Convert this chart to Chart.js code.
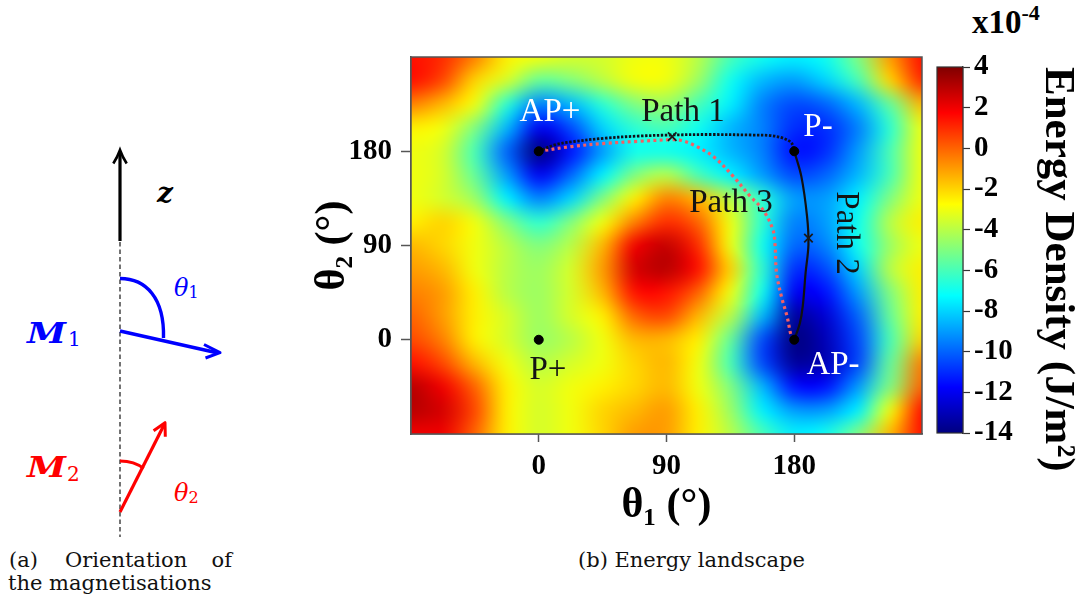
<!DOCTYPE html>
<html>
<head>
<meta charset="utf-8">
<title>Energy landscape</title>
<script src="https://cdn.jsdelivr.net/npm/chart.js@4.4.1/dist/chart.umd.min.js"></script>
<style>
  html, body { margin: 0; padding: 0; background: #fff; }
  #page { position: relative; width: 1083px; height: 608px; overflow: hidden; }
  #page svg, #page canvas { position: absolute; top: 0; }
  #schema { left: 0; }
  #landscape { left: 290px; }
  #colorbar { left: 925px; }
</style>
</head>
<body>
<div id="page">
  <svg id="schema" width="1083" height="608" viewBox="0 0 1083 608">
    <g fill="none">
      <line x1="120" y1="242" x2="120" y2="537" stroke="#000" stroke-width="1.1" stroke-dasharray="4.5 3"/>
      <line x1="120" y1="241" x2="120" y2="153" stroke="#000" stroke-width="3.2"/>
      <path d="M113.3,163.5 Q117.5,157 120,150 Q122.5,157 126.7,163.5" stroke="#000" stroke-width="2.6"/>
      <path d="M120,278.5 C146,278.5 164.5,298 163.5,338" stroke="#0000ff" stroke-width="3.4"/>
      <line x1="120" y1="331" x2="218" y2="353" stroke="#0000ff" stroke-width="3.4"/>
      <path d="M204,344.5 L220,352.7 L205.5,358" stroke="#0000ff" stroke-width="3" stroke-linejoin="round"/>
      <path d="M120,461 C129,461 137.5,463.5 143.5,468.5" stroke="#ff0000" stroke-width="3.2"/>
      <line x1="120" y1="512" x2="164.5" y2="424" stroke="#ff0000" stroke-width="3.2"/>
      <path d="M153.6,430.8 L165,422.7 L165.3,436.7" stroke="#ff0000" stroke-width="3" stroke-linejoin="round"/>
    </g>
    <g font-family="DejaVu Serif, serif">
      <text x="157" y="202" font-style="italic" font-weight="bold" font-size="28">z</text>
      <text x="174" y="296" fill="#0000ff" font-style="italic" font-size="24">θ<tspan font-style="normal" font-size="16" dy="2">1</tspan></text>
      <text x="27" y="343" fill="#0000ff" font-style="italic" font-weight="bold" font-size="28" textLength="39" lengthAdjust="spacingAndGlyphs">M</text>
      <text x="68" y="346" fill="#0000ff" font-size="20">1</text>
      <text x="27" y="477" fill="#ff0000" font-style="italic" font-weight="bold" font-size="28" textLength="39" lengthAdjust="spacingAndGlyphs">M</text>
      <text x="67" y="481" fill="#ff0000" font-size="20">2</text>
      <text x="174" y="501" fill="#ff0000" font-style="italic" font-size="24">θ<tspan font-style="normal" font-size="16" dy="2">2</tspan></text>
      <g font-size="21" fill="#111">
        <text x="9" y="567">(a)</text>
        <text x="65" y="567">Orientation</text>
        <text x="232" y="567" text-anchor="end">of</text>
        <text x="8" y="590">the magnetisations</text>
        <text x="691.5" y="567" text-anchor="middle">(b) Energy landscape</text>
      </g>
    </g>
    <text x="972" y="33" font-family="Liberation Serif, serif" font-weight="bold" font-size="33">x10<tspan font-size="22" dy="-13">-4</tspan></text>
  </svg>
  <canvas id="landscape" width="640" height="560"></canvas>
  <canvas id="colorbar" width="158" height="500"></canvas>
</div>
<script>
// grid of energy density (x1e-4 J/m^2), rows from theta2 = 270 down to -90
const theta1Grid = [-90, -67.5, -45, -22.5, 0, 22.5, 45, 67.5, 90, 112.5, 135, 157.5, 180, 202.5, 225, 247.5, 270];
const theta2Grid = [270, 247.5, 225, 202.5, 180, 157.5, 135, 112.5, 90, 67.5, 45, 22.5, 0, -22.5, -45, -67.5, -90];
const energy = [
  [ 1.5,  1.0, -0.5, -2.5,  -3.0, -3.5, -3.5, -3.0, -3.0, -4.0, -6.0,  -7.0,  -7.5,  -7.0,  -5.0, -1.0,  1.5],
  [ 1.5,  0.5, -2.0, -3.5,  -5.5, -5.0, -4.0, -3.0, -3.0, -4.5, -7.0,  -8.5,  -9.0,  -8.0,  -6.0, -2.0,  1.0],
  [-0.5, -1.5, -3.0, -6.5,  -9.5, -8.5, -6.5, -5.0, -4.5, -6.0, -7.5,  -9.5, -10.5, -10.0,  -8.5, -5.5, -1.5],
  [-2.5, -3.0, -5.0, -8.5, -12.0,-10.5, -8.0, -6.5, -6.0, -7.0, -8.5,  -9.5, -11.0, -11.0,  -9.5, -6.5, -3.0],
  [-3.0, -3.5, -6.0,-10.0, -14.0,-11.5, -9.0, -7.0, -7.0, -7.5, -8.5,  -9.5, -11.5, -11.0,  -9.0, -6.0, -3.0],
  [-3.0, -3.5, -5.5, -9.0, -12.0,-10.0, -7.5, -5.0, -4.0, -6.0, -7.5,  -9.0, -10.5, -10.0,  -8.5, -6.0, -3.0],
  [-3.0, -3.5, -4.5, -7.5,  -9.5, -8.0, -5.0, -2.5, -0.5, -1.5, -4.0,  -6.5,  -9.0,  -9.0,  -7.5, -5.0, -3.0],
  [-2.5, -2.0, -3.0, -5.0,  -6.5, -5.0, -3.0, -0.5,  1.0,  0.0, -3.0,  -6.5,  -9.5,  -9.0,  -7.0, -4.0, -2.5],
  [-1.5, -2.0, -3.0, -4.0,  -5.0, -4.0, -1.5,  2.0,  2.8,  1.0, -3.0,  -7.0, -10.0,  -9.5,  -7.0, -4.5, -3.0],
  [-1.0, -1.5, -3.0, -4.0,  -4.5, -3.5, -1.0,  2.5,  3.0,  1.5, -2.0,  -6.5, -11.0, -10.5,  -8.0, -4.0, -2.5],
  [-0.5, -1.0, -2.5, -4.0,  -4.5, -3.5, -1.5,  1.5,  1.5,  0.0, -3.0,  -7.0, -12.0, -11.5,  -9.0, -5.0, -2.5],
  [ 0.0, -1.0, -2.5, -3.5,  -4.5, -3.5, -2.5,  0.0,  0.5, -1.5, -4.0,  -8.5, -13.5, -12.5, -10.0, -5.5, -2.5],
  [ 0.5, -0.5, -2.5, -3.5,  -4.5, -4.0, -3.0, -1.5, -1.5, -2.5, -5.5, -10.5, -14.0, -13.0, -10.5, -6.0, -2.0],
  [ 1.5,  0.5, -1.5, -3.0,  -4.0, -3.5, -3.0, -2.0, -1.5, -3.0, -6.0, -10.5, -13.5, -13.0, -10.5, -5.5, -0.5],
  [ 3.0,  2.0,  0.0, -2.5,  -3.5, -3.0, -2.5, -2.0, -1.5, -3.0, -5.0,  -8.5, -11.5, -11.5,  -9.0, -5.0,  0.0],
  [ 3.0,  2.5,  0.5, -2.5,  -3.5, -3.0, -2.0, -1.5, -1.0, -2.5, -4.5,  -7.5,  -9.0,  -9.0,  -7.5, -3.0,  1.5],
  [ 2.0,  2.0,  0.0, -2.5,  -3.5, -3.0, -2.0, -1.0, -1.0, -2.5, -4.0,  -6.0,  -7.5,  -7.0,  -5.0, -1.5,  1.5]
];

const theta1Ticks = [0, 90, 180];
const theta2Ticks = [0, 90, 180];
const colorTicks = [-14, -12, -10, -8, -6, -4, -2, 0, 2, 4];
const cbMin = -14, cbMax = 4;

const stateTheta1 = [0, 180, 0, 180];
const stateTheta2 = [180, 180, 0, 0];
const crossTheta1 = [94, 190];
const crossTheta2 = [194, 97];

const path1Theta1 = [0, 11, 23, 47, 70, 93, 120, 150, 163, 172, 178, 180];
const path1Theta2 = [180, 186, 189, 192.5, 194.5, 195.5, 196, 195.5, 195, 192.5, 188, 180];
const path2Theta1 = [180, 185, 189, 190, 188, 186, 184, 180];
const path2Theta2 = [180, 156, 118, 91, 64, 32, 16, 0];
const path3Theta1 = [0, 23, 47, 70, 93, 100, 109, 123, 137, 149, 158, 165, 166.5, 167.5, 171, 175, 178, 180];
const path3Theta2 = [180, 184.5, 187.5, 189.5, 191, 190.5, 186, 175, 156, 137, 124, 105, 90, 64, 41, 22, 3, 0];

const labelText = ['AP+', 'Path 1', 'P-', 'Path 3', 'Path 2', 'AP-', 'P+'];
const labelTheta1 = [7.9, 101.6, 196.7, 135.4, 216.5, 207.3, 6.5];
const labelTheta2 = [217.5, 217.5, 203.2, 130.6, 101.9, -24.1, -28.9];

const serif = '"Liberation Serif", "DejaVu Serif", serif';
Chart.defaults.font.family = serif;

const pts = (xs, ys) => xs.map((x, i) => ({ x: x, y: ys[i] }));

function jet(v) {
  const t = Math.min(1, Math.max(0, (v - cbMin) / (cbMax - cbMin)));
  const c = k => Math.round(255 * Math.min(1, Math.max(0, 1.5 - Math.abs(4 * t - k))));
  return [c(3), c(2), c(1)];
}

// small image, one pixel per grid value, stretched over the grid extent
const heatImg = document.createElement('canvas');
heatImg.width = theta1Grid.length;
heatImg.height = theta2Grid.length;
(function () {
  const g = heatImg.getContext('2d');
  const img = g.createImageData(heatImg.width, heatImg.height);
  energy.forEach((row, j) => row.forEach((v, i) => {
    const [r, gg, b] = jet(v);
    const k = (j * heatImg.width + i) * 4;
    img.data[k] = r; img.data[k + 1] = gg; img.data[k + 2] = b; img.data[k + 3] = 255;
  }));
  g.putImageData(img, 0, 0);
})();

const heatmapPlugin = {
  id: 'heatmap',
  beforeDatasetsDraw(chart) {
    const { ctx, chartArea: a, scales: { x, y } } = chart;
    const hx = (theta1Grid[1] - theta1Grid[0]) / 2;
    const hy = (theta2Grid[0] - theta2Grid[1]) / 2;
    const left = x.getPixelForValue(theta1Grid[0] - hx);
    const right = x.getPixelForValue(theta1Grid[theta1Grid.length - 1] + hx);
    const top = y.getPixelForValue(theta2Grid[0] + hy);
    const bottom = y.getPixelForValue(theta2Grid[theta2Grid.length - 1] - hy);
    ctx.save();
    ctx.beginPath();
    ctx.rect(a.left, a.top, a.right - a.left, a.bottom - a.top);
    ctx.clip();
    ctx.imageSmoothingEnabled = true;
    ctx.imageSmoothingQuality = 'high';
    ctx.drawImage(heatImg, left, top, right - left, bottom - top);
    ctx.restore();
  },
  afterDatasetsDraw(chart) {
    const { ctx, chartArea: a, scales: { x, y } } = chart;
    ctx.save();
    ctx.strokeStyle = '#555';
    ctx.lineWidth = 1.5;
    ctx.strokeRect(a.left, a.top, a.right - a.left, a.bottom - a.top);

    ctx.font = '33px ' + serif;
    ctx.textAlign = 'center';
    ctx.textBaseline = 'middle';
    labelText.forEach((txt, i) => {
      const px = x.getPixelForValue(labelTheta1[i]);
      const py = y.getPixelForValue(labelTheta2[i]);
      ctx.fillStyle = txt.startsWith('AP') || txt === 'P-' ? '#fff' : '#141414';
      ctx.save();
      ctx.translate(px, py);
      if (txt === 'Path 2') ctx.rotate(Math.PI / 2);
      ctx.fillText(txt, 0, 0);
      ctx.restore();
    });
    ctx.restore();
  }
};

const axisTicks = list => scale => { scale.ticks = list.map(v => ({ value: v })); };
const tickFont = { family: serif, size: 29, weight: 'bold' };
const titleFont = { family: serif, size: 42, weight: 'bold' };

new Chart(document.getElementById('landscape'), {
  type: 'scatter',
  data: {
    datasets: [
      {
        label: 'states',
        data: pts(stateTheta1, stateTheta2),
        pointRadius: 4.5,
        backgroundColor: '#000',
        borderColor: '#000'
      },
      {
        label: 'crossings',
        data: pts(crossTheta1, crossTheta2),
        pointStyle: 'crossRot',
        pointRadius: 6,
        borderWidth: 1.8,
        borderColor: '#1a1a1a'
      },
      {
        label: 'Path 1',
        data: pts(path1Theta1, path1Theta2),
        showLine: true,
        pointRadius: 0,
        borderColor: '#111118',
        borderWidth: 2.8,
        borderDash: [2.4, 1.6],
        tension: 0.35,
        fill: false
      },
      {
        label: 'Path 2',
        data: pts(path2Theta1, path2Theta2),
        showLine: true,
        pointRadius: 0,
        borderColor: '#111',
        borderWidth: 2.2,
        tension: 0.35,
        fill: false
      },
      {
        label: 'Path 3',
        data: pts(path3Theta1, path3Theta2),
        showLine: true,
        pointRadius: 0,
        borderColor: '#f55f63',
        borderWidth: 3.2,
        borderDash: [3, 3.4],
        tension: 0.35,
        fill: false
      }
    ]
  },
  options: {
    responsive: false,
    animation: false,
    events: [],
    layout: { padding: { left: 0, top: 57, right: 8, bottom: 0 } },
    plugins: { legend: { display: false }, tooltip: { enabled: false } },
    scales: {
      x: {
        type: 'linear',
        min: -90,
        max: 270,
        afterBuildTicks: axisTicks(theta1Ticks),
        afterFit: s => { s.height = 126; },
        ticks: { font: tickFont, color: '#000', padding: 7 },
        grid: { drawOnChartArea: false, tickLength: 8, tickColor: '#555', tickWidth: 1.5 },
        border: { display: true, color: '#555', width: 1.5 },
        title: { display: true, text: 'θ₁ (°)', font: titleFont, color: '#000', padding: { top: 0, bottom: 29 } }
      },
      y: {
        type: 'linear',
        min: -90,
        max: 270,
        afterBuildTicks: axisTicks(theta2Ticks),
        afterFit: s => { s.width = 121; },
        ticks: { font: tickFont, color: '#000', padding: 9 },
        grid: { drawOnChartArea: false, tickLength: 10, tickColor: '#555', tickWidth: 1.5 },
        border: { display: true, color: '#555', width: 1.5 },
        title: { display: true, text: 'θ₂ (°)', font: titleFont, color: '#000', padding: { top: 18, bottom: 0 } }
      }
    }
  },
  plugins: [heatmapPlugin]
});

const colorbarPlugin = {
  id: 'colorbar',
  beforeDatasetsDraw(chart) {
    const { ctx, chartArea: a, scales: { y } } = chart;
    const y0 = y.getPixelForValue(cbMin), y1 = y.getPixelForValue(cbMax);
    const grad = ctx.createLinearGradient(0, y0, 0, y1);
    [0, 0.125, 0.375, 0.625, 0.875, 1].forEach(t => {
      const [r, g, b] = jet(cbMin + t * (cbMax - cbMin));
      grad.addColorStop(t, `rgb(${r},${g},${b})`);
    });
    ctx.save();
    ctx.fillStyle = grad;
    ctx.fillRect(a.left, a.top, a.right - a.left, a.bottom - a.top);
    ctx.strokeStyle = '#333';
    ctx.lineWidth = 1.2;
    ctx.strokeRect(a.left, a.top, a.right - a.left, a.bottom - a.top);
    ctx.restore();
  }
};

new Chart(document.getElementById('colorbar'), {
  type: 'scatter',
  data: { datasets: [] },
  options: {
    responsive: false,
    animation: false,
    events: [],
    layout: { padding: { left: 12, top: 67, right: 0, bottom: 67 } },
    plugins: { legend: { display: false }, tooltip: { enabled: false } },
    scales: {
      x: { display: false, min: 0, max: 1 },
      y: {
        position: 'right',
        min: cbMin,
        max: cbMax,
        afterBuildTicks: axisTicks(colorTicks),
        afterFit: s => { s.width = 120; },
        ticks: { font: tickFont, color: '#000', padding: 4 },
        grid: { drawOnChartArea: false, tickLength: 7, tickColor: '#333', tickWidth: 1.2 },
        border: { display: true, color: '#333', width: 1.2 },
        title: {
          display: true,
          text: 'Energy Density (J/m²)',
          align: 'end',
          font: { family: serif, size: 43, weight: 'bold' },
          color: '#000',
          padding: 0
        }
      }
    }
  },
  plugins: [colorbarPlugin]
});
</script>
</body>
</html>
